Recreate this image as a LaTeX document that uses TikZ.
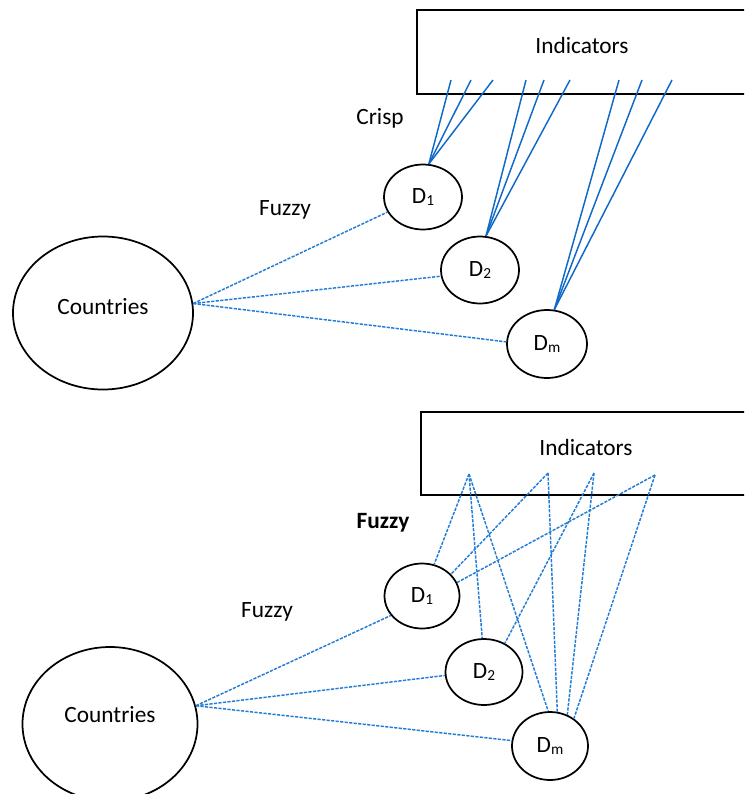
\documentclass[tikz,border=0pt]{standalone}
\usepackage{fontspec}
\setmainfont{Carlito}
\usetikzlibrary{shapes.geometric}
\newcommand{\subd}[1]{\raisebox{-1pt}{\fontsize{11.5}{12}\selectfont #1}}
\begin{document}
\begin{tikzpicture}[x=0.75pt,y=-0.75pt,
  every node/.style={font=\fontsize{17.5}{20}\selectfont},
  ell/.style={draw=black,ellipse,line width=1.3pt,inner sep=0pt},
  indbox/.style={draw=black,line width=1.2pt,rectangle,anchor=north west,inner sep=0pt},
  crispln/.style={draw=lblue,line width=1.1pt},
  fuzzln/.style={draw=dblue,line width=1.1pt,dash pattern=on 2.4pt off 1pt},
  lbl/.style={inner sep=0pt}]
\definecolor{lblue}{RGB}{15,105,200}
\definecolor{dblue}{RGB}{35,125,212}
\useasboundingbox (0,0) rectangle (744,794);
\clip (0,0) rectangle (744,794);

% ---------- top panel ----------
\node[indbox,minimum width=265.5pt,minimum height=63pt] (box1) at (416,9) {};
\node[lbl] (ind1) at (582,45) {Indicators};
\node[lbl] (crisp) at (380,118) {Crisp};
\node[lbl] (fz1) at (285,210) {Fuzzy};
\node[ell,minimum width=135pt,minimum height=114.75pt] (c1) at (103,313) {};
\node[lbl] at (103,307) {Countries};
\node[ell,minimum width=58.5pt,minimum height=48.75pt] (d1) at (423,197) {D\subd{1}};
\node[ell,minimum width=58.5pt,minimum height=50.25pt] (d2) at (480,270) {D\subd{2}};
\node[ell,minimum width=60pt,minimum height=51pt] (dm) at (547,344) {D\subd{m}};

\coordinate (p1) at (451,80);
\coordinate (p2) at (471,80);
\coordinate (p3) at (493,80);
\coordinate (p4) at (526,80);
\coordinate (p5) at (544,80);
\coordinate (p6) at (570,80);
\coordinate (p7) at (619,80);
\coordinate (p8) at (642,80);
\coordinate (p9) at (672,80);

\foreach \p in {p1,p2,p3} \draw[crispln] (\p) -- (d1.80);
\foreach \p in {p4,p5,p6} \draw[crispln] (\p) -- (d2.80);
\foreach \p in {p7,p8,p9} \draw[crispln] (\p) -- (dm.78);

\draw[fuzzln] (c1.6) -- (d1.203);
\draw[fuzzln] (c1.6) -- (d2.189);
\draw[fuzzln] (c1.6) -- (dm.177);

% ---------- bottom panel ----------
\node[indbox,minimum width=262.5pt,minimum height=62.25pt] (box2) at (420,411) {};
\node[lbl] (ind2) at (586,447) {Indicators};
\node[lbl,font=\fontsize{17.5}{20}\selectfont\bfseries] (fzb) at (383,523) {Fuzzy};
\node[lbl] (fz2) at (267,612) {Fuzzy};
\node[ell,minimum width=131.25pt,minimum height=115.5pt] (c2) at (110,724) {};
\node[lbl] at (110,715) {Countries};
\node[ell,minimum width=56.25pt,minimum height=48.75pt] (e1) at (422,596) {D\subd{1}};
\node[ell,minimum width=57.75pt,minimum height=49.5pt] (e2) at (484,672) {D\subd{2}};
\node[ell,minimum width=57pt,minimum height=51pt] (em) at (550,746) {D\subd{m}};

\coordinate (qa) at (469,474);
\coordinate (qb) at (548,473);
\coordinate (qc) at (594,473);
\coordinate (qe) at (655,475);

\draw[fuzzln] (qa) -- (e1.69);
\draw[fuzzln] (qa) -- (e2.93);
\draw[fuzzln] (qa) -- (em.93);
\draw[fuzzln] (qb) -- (e1.37);
\draw[fuzzln] (qb) -- (em.78);
\draw[fuzzln] (qc) -- (e2.54);
\draw[fuzzln] (qc) -- (em.61);
\draw[fuzzln] (qe) -- (e1.21);
\draw[fuzzln] (qe) -- (em.49);

\draw[fuzzln] (c2.12) -- (e1.212);
\draw[fuzzln] (c2.12) -- (e2.185);
\draw[fuzzln] (c2.12) -- (em.172);
\end{tikzpicture}
\end{document}
